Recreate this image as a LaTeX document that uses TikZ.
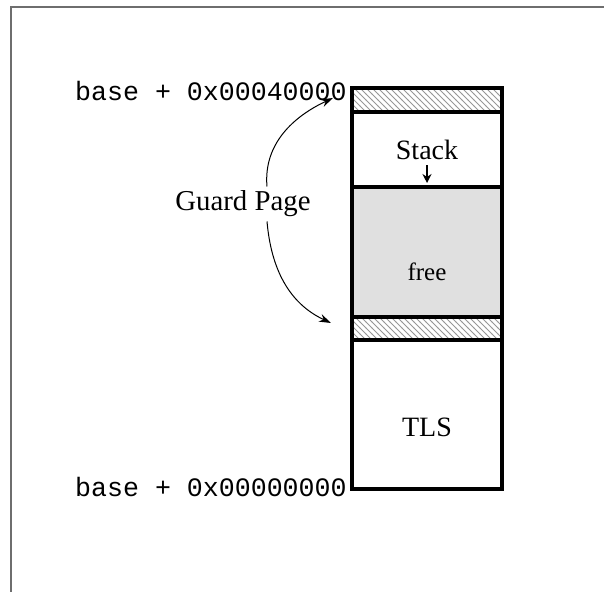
\documentclass[tikz,border=0pt]{standalone}
\usepackage{fontspec}
\setmainfont{Liberation Serif}
\setmonofont{Liberation Mono}
\usepackage{tikz}
\usetikzlibrary{arrows.meta, patterns, positioning}
\definecolor{freegray}{RGB}{224,224,224}
\definecolor{framegray}{RGB}{110,110,110}
\definecolor{hatchgray}{RGB}{150,150,150}

\tikzset{
  memblock/.style={draw=black, line width=1.6pt, minimum width=75pt, inner sep=0pt, outer sep=0pt},
  guardblock/.style={memblock, pattern=north west lines, pattern color=hatchgray},
  blocklbl/.style={font=\fontsize{14}{16}\selectfont, inner sep=0pt},
  addrlabel/.style={font=\ttfamily\fontsize{13.3}{15}\selectfont, anchor=east, inner sep=0pt},
  guardarrow/.style={-{Stealth[length=6pt,width=4pt]}, line width=0.5pt}
}

\begin{document}
\begin{tikzpicture}[x=0.5pt, y=-0.5pt]
\useasboundingbox (0,0) rectangle (604,592);

% frame edges
\draw[framegray, line width=0.6pt] (11,592) -- (11,7) -- (604,7);

% memory blocks, top to bottom
\node[guardblock, minimum height=12pt] (gtop) at (427,100) {};
\node[memblock, minimum height=37.5pt, below=0pt of gtop] (stack) {};
\node[memblock, fill=freegray, minimum height=65pt, below=0pt of stack] (free) {};
\node[guardblock, minimum height=11.5pt, below=0pt of free] (gbot) {};
\node[memblock, minimum height=74.5pt, below=0pt of gbot] (tls) {};

\node[blocklbl] (stacklbl) at (427,150) {Stack};
\node[blocklbl, font=\fontsize{12.5}{14}\selectfont] (freelbl) at (427,272) {free};
\node[blocklbl] (tlslbl) at (427,427) {TLS};
\coordinate (stackend) at (427,183);
\draw[-{Stealth[length=4.5pt,width=4.5pt]}, line width=1pt] (stacklbl.south) ++(0,5) -- (stackend);

% addresses
\node[addrlabel] (addrtop) at (347,91) {base + 0x00040000};
\node[addrlabel] (addrbot) at (347,487) {base + 0x00000000};

% guard page callout
\node[font=\fontsize{14.4}{17}\selectfont, inner sep=2pt] (guard) at (243,204) {Guard Page};
\coordinate (gtopend) at (333,98);
\coordinate (gbotend) at (331,323);
\draw[guardarrow] ([xshift=12pt]guard.north) to[out=95, in=205] (gtopend);
\draw[guardarrow] ([xshift=12pt]guard.south) to[out=-85, in=155] (gbotend);

\end{tikzpicture}
\end{document}
